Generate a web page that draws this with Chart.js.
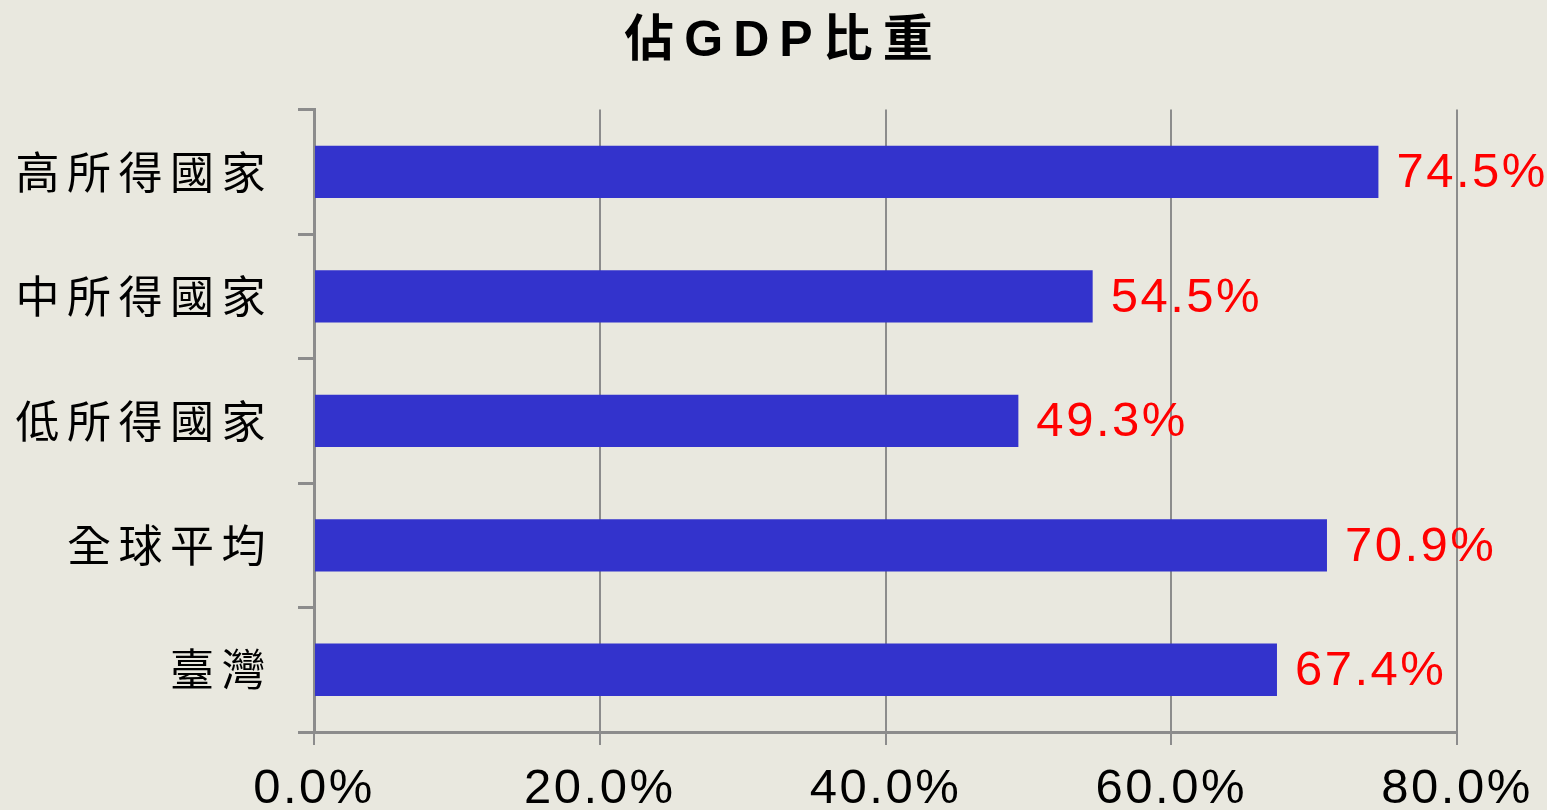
<!DOCTYPE html>
<html>
<head>
<meta charset="utf-8">
<script src="https://cdn.jsdelivr.net/npm/chart.js@4"></script>
<style>
  html, body { margin: 0; padding: 0; background: #e9e8df; }
  #wrap { width: 1547px; height: 810px; }
</style>
</head>
<body>
<div id="wrap"><canvas id="gdpChart"></canvas></div>
<script>
const categories = ['高所得國家', '中所得國家', '低所得國家', '全球平均', '臺灣'];
const shareOfGdp = [74.5, 54.5, 49.3, 70.9, 67.4];
const xTicks = [0, 20, 40, 60, 80];
const titleText = '佔GDP比重';

// wrap a scale's label drawing so its text gets extra letter spacing
function spaceLabels(scale, spacing) {
    if (scale._spaced) return;
    const orig = scale.drawLabels.bind(scale);
    scale.drawLabels = function (area) {
        const c = scale.ctx;
        c.save();
        c.letterSpacing = spacing;
        orig(area);
        c.restore();
    };
    scale._spaced = true;
}

const spacing = {
    id: 'spacing',
    afterUpdate(chart) {
        spaceLabels(chart.scales.x, '2.5px');
        spaceLabels(chart.scales.y, '7.5px');
    }
};

// title drawn by hand over the full width (the built-in one only reserves the space)
const wideTitle = {
    id: 'wideTitle',
    afterDraw(chart) {
        const c = chart.ctx;
        c.save();
        c.letterSpacing = '10px';
        c.fillStyle = '#000';
        c.font = 'bold 50px "Liberation Sans", "Noto Sans CJK TC", sans-serif';
        c.textAlign = 'center';
        c.textBaseline = 'middle';
        c.fillText(titleText, chart.width / 2 + 5 + 5, 42);
        c.restore();
    }
};

// draws the red % labels right of each bar
const valueLabels = {
    id: 'valueLabels',
    afterDatasetsDraw(chart) {
        const c = chart.ctx;
        const meta = chart.getDatasetMeta(0);
        c.save();
        c.letterSpacing = '2.5px';
        c.fillStyle = '#ff0000';
        c.font = '49px "Liberation Sans", Arial, sans-serif';
        c.textAlign = 'left';
        c.textBaseline = 'middle';
        meta.data.forEach((bar, i) => {
            c.fillText(shareOfGdp[i].toFixed(1) + '%', bar.x + 18, bar.y + 2);
        });
        c.restore();
    }
};

const ctx = document.getElementById('gdpChart').getContext('2d');
new Chart(ctx, {
    type: 'bar',
    data: {
        labels: categories,
        datasets: [{
            data: shareOfGdp,
            backgroundColor: '#3333cc',
            borderWidth: 0,
            barPercentage: 0.42,
            categoryPercentage: 1.0
        }]
    },
    options: {
        indexAxis: 'y',
        responsive: true,
        maintainAspectRatio: false,
        animation: false,
        layout: { padding: 0 },
        plugins: {
            legend: { display: false },
            tooltip: { enabled: false },
            title: {
                display: true,
                text: titleText,
                color: 'rgba(0,0,0,0)',
                font: { family: '"Noto Sans CJK TC", sans-serif', size: 48, weight: 'bold', lineHeight: 1.2 },
                padding: { top: 12, bottom: 40 }
            }
        },
        scales: {
            x: {
                min: 0,
                max: 80,
                afterBuildTicks: (scale) => { scale.ticks = xTicks.map(v => ({ value: v })); },
                afterFit: (scale) => { scale.height = 78; scale.paddingRight = 90; },
                grid: { color: '#8c8c8c', lineWidth: 2, tickLength: 13 },
                border: { color: '#8c8c8c', width: 3 },
                ticks: {
                    color: '#000',
                    padding: 15,
                    maxRotation: 0,
                    font: { family: '"Liberation Sans", Arial, sans-serif', size: 49 },
                    callback: (v) => Number(v).toFixed(1) + '%'
                }
            },
            y: {
                afterFit: (scale) => { scale.width = 314; },
                grid: { display: true, drawOnChartArea: false, color: '#8c8c8c', lineWidth: 3, tickLength: 16, offset: true },
                border: { color: '#8c8c8c', width: 3 },
                ticks: {
                    color: '#000',
                    padding: 25,
                    font: { family: '"Noto Sans CJK TC", serif', size: 44 }
                }
            }
        }
    },
    plugins: [spacing, wideTitle, valueLabels]
});
</script>
</body>
</html>
